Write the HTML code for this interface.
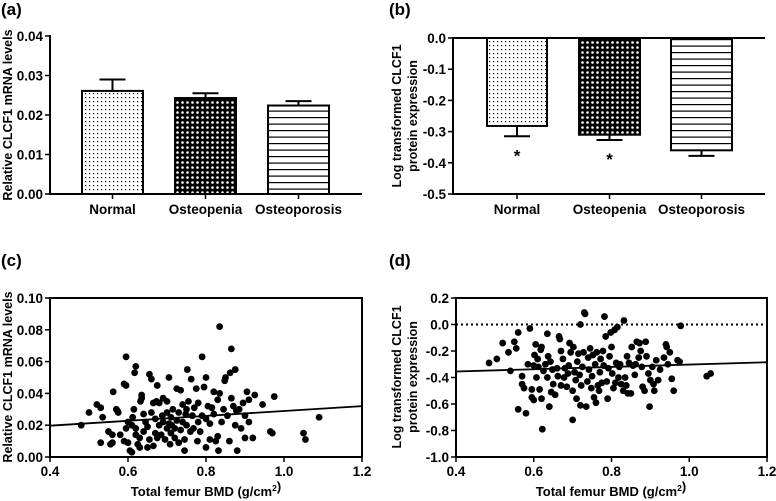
<!DOCTYPE html>
<html><head><meta charset="utf-8"><style>
body{margin:0;background:#fff;}
svg{display:block;font-family:"Liberation Sans",Arial,sans-serif;font-weight:bold;}
</style></head><body>
<svg id="fig" width="776" height="501" viewBox="0 0 776 501">
<defs>
<pattern id="pDots" width="4" height="4" patternUnits="userSpaceOnUse"><rect width="4" height="4" fill="#fff"/><rect x="1" y="1" width="1.2" height="1.2" fill="#000"/></pattern>
<pattern id="pCheck" width="5" height="5" patternUnits="userSpaceOnUse"><rect width="5" height="5" fill="#000"/><circle cx="2.5" cy="2.5" r="1.3" fill="#fff"/></pattern>
<pattern id="pLines" width="6" height="6.5" patternUnits="userSpaceOnUse"><rect width="6" height="6.5" fill="#fff"/><rect y="0" width="6" height="1.2" fill="#000"/></pattern>
</defs>
<text x="1" y="15" font-size="17">(a)</text>
<text x="389" y="15" font-size="17">(b)</text>
<text x="1" y="266" font-size="17">(c)</text>
<text x="389" y="266" font-size="17">(d)</text>
<text transform="translate(12,115) rotate(-90)" font-size="12.5" text-anchor="middle">Relative CLCF1 mRNA levels</text>
<text transform="translate(401,116) rotate(-90)" font-size="12.5" text-anchor="middle">Log transformed CLCF1</text>
<text transform="translate(417,116) rotate(-90)" font-size="12.5" text-anchor="middle">protein expression</text>
<text transform="translate(12,377) rotate(-90)" font-size="12.5" text-anchor="middle">Relative CLCF1 mRNA levels</text>
<text transform="translate(401,377) rotate(-90)" font-size="12.5" text-anchor="middle">Log transformed CLCF1</text>
<text transform="translate(417,377) rotate(-90)" font-size="12.5" text-anchor="middle">protein expression</text>
<text x="206" y="496" font-size="13" text-anchor="middle">Total femur BMD (g/cm<tspan font-size="8.5" dy="-5">2</tspan>)</text>
<text x="611" y="496" font-size="13" text-anchor="middle">Total femur BMD (g/cm<tspan font-size="8.5" dy="-5">2</tspan>)</text>
</svg>
<script>
const groups=["Normal","Osteopenia","Osteoporosis"];
const aMeans=[0.0261,0.0243,0.0224];
const aErr=[0.0029,0.0012,0.0011];
const aTicks=["0.00","0.01","0.02","0.03","0.04"];
const bMeans=[-0.282,-0.310,-0.360];
const bErr=[0.033,0.017,0.018];
const bTicks=["0.0","-0.1","-0.2","-0.3","-0.4","-0.5"];
const bStars=["*","*",""];
const fills=["url(#pDots)","url(#pCheck)","url(#pLines)"];
const cX=[0.48,0.50,0.52,0.53,0.53,0.535,0.55,0.555,0.56,0.56,0.562,0.57,0.573,0.575,0.58,0.59,0.595,0.595,0.59,0.595,0.60,0.60,0.605,0.61,0.61,0.612,0.615,0.617,0.62,0.62,0.62,0.625,0.63,0.63,0.632,0.635,0.635,0.64,0.64,0.645,0.65,0.65,0.655,0.655,0.66,0.66,0.665,0.665,0.67,0.67,0.673,0.675,0.675,0.68,0.68,0.685,0.688,0.69,0.69,0.695,0.70,0.70,0.70,0.705,0.705,0.708,0.71,0.71,0.712,0.715,0.72,0.72,0.725,0.725,0.73,0.73,0.735,0.735,0.74,0.74,0.745,0.745,0.748,0.75,0.75,0.752,0.755,0.76,0.762,0.765,0.768,0.77,0.775,0.778,0.78,0.78,0.785,0.79,0.79,0.795,0.80,0.80,0.80,0.805,0.81,0.81,0.815,0.82,0.82,0.825,0.83,0.83,0.832,0.835,0.835,0.84,0.845,0.848,0.85,0.855,0.86,0.862,0.865,0.865,0.87,0.875,0.875,0.878,0.88,0.885,0.89,0.895,0.90,0.90,0.905,0.91,0.91,0.92,0.925,0.945,0.965,0.97,0.975,1.05,1.055,1.09];
const cY=[0.020,0.028,0.033,0.031,0.009,0.025,0.016,0.008,0.009,0.014,0.041,0.030,0.029,0.028,0.014,0.046,0.045,0.063,0.010,0.018,0.022,0.009,0.004,0.003,0.020,0.025,0.030,0.053,0.057,0.014,0.018,0.008,0.012,0.006,0.035,0.039,0.037,0.027,0.016,0.022,0.006,0.019,0.052,0.011,0.049,0.028,0.007,0.034,0.015,0.024,0.035,0.045,0.012,0.020,0.034,0.014,0.026,0.037,0.022,0.011,0.018,0.028,0.035,0.050,0.021,0.008,0.025,0.015,0.020,0.030,0.018,0.012,0.043,0.023,0.028,0.009,0.042,0.017,0.033,0.022,0.004,0.011,0.027,0.020,0.030,0.055,0.035,0.016,0.049,0.026,0.018,0.031,0.043,0.010,0.034,0.022,0.016,0.063,0.026,0.044,0.050,0.006,0.024,0.032,0.011,0.021,0.031,0.041,0.027,0.010,0.013,0.036,0.004,0.040,0.082,0.022,0.030,0.048,0.050,0.026,0.010,0.053,0.037,0.068,0.032,0.055,0.020,0.029,0.004,0.030,0.018,0.034,0.012,0.026,0.041,0.036,0.022,0.012,0.039,0.033,0.016,0.015,0.038,0.015,0.011,0.025];
const cFit=[0.0197,0.032];
const cXTicks=["0.4","0.6","0.8","1.0","1.2"];
const cYTicks=["0.00","0.02","0.04","0.06","0.08","0.10"];
const dX=[0.485,0.505,0.52,0.535,0.54,0.55,0.555,0.56,0.56,0.57,0.57,0.575,0.58,0.585,0.59,0.595,0.595,0.60,0.60,0.602,0.605,0.607,0.61,0.612,0.615,0.618,0.62,0.62,0.622,0.625,0.63,0.635,0.635,0.637,0.64,0.643,0.645,0.648,0.65,0.655,0.66,0.662,0.665,0.667,0.67,0.67,0.675,0.678,0.68,0.685,0.688,0.69,0.692,0.695,0.70,0.70,0.702,0.705,0.708,0.71,0.712,0.715,0.718,0.72,0.72,0.722,0.725,0.728,0.73,0.732,0.735,0.738,0.74,0.742,0.745,0.748,0.75,0.752,0.755,0.758,0.76,0.762,0.765,0.768,0.77,0.772,0.775,0.778,0.78,0.782,0.785,0.788,0.79,0.792,0.795,0.798,0.80,0.802,0.805,0.808,0.81,0.812,0.815,0.818,0.82,0.822,0.825,0.83,0.832,0.835,0.838,0.84,0.842,0.845,0.85,0.852,0.855,0.86,0.862,0.865,0.87,0.872,0.875,0.878,0.88,0.885,0.888,0.89,0.895,0.898,0.90,0.905,0.908,0.91,0.915,0.92,0.925,0.935,0.94,0.942,0.945,0.95,0.955,0.96,0.97,0.975,0.978,1.045,1.055];
const dY=[-0.29,-0.26,-0.14,-0.21,-0.35,-0.13,-0.18,-0.06,-0.64,-0.39,-0.45,-0.48,-0.67,-0.30,-0.03,-0.49,-0.55,-0.31,-0.57,-0.23,-0.15,-0.40,-0.26,-0.32,-0.49,-0.19,-0.17,-0.56,-0.79,-0.35,-0.30,-0.07,-0.40,-0.24,-0.62,-0.28,-0.51,-0.34,-0.45,-0.53,-0.33,-0.39,-0.09,-0.11,-0.20,-0.46,-0.26,-0.40,-0.33,-0.47,-0.37,-0.31,-0.14,-0.21,-0.50,-0.72,-0.17,-0.36,-0.42,-0.56,-0.28,-0.22,-0.38,-0.61,0.00,-0.46,-0.32,-0.21,0.09,0.08,-0.62,-0.43,-0.25,-0.34,-0.18,-0.48,-0.39,-0.23,-0.55,-0.30,-0.59,-0.21,-0.46,-0.50,-0.36,-0.26,-0.44,-0.20,-0.31,0.06,-0.09,-0.43,-0.56,-0.33,-0.24,-0.06,-0.17,-0.37,-0.48,-0.04,-0.44,-0.29,-0.02,-0.40,-0.32,-0.30,-0.45,-0.50,0.03,-0.40,-0.46,-0.24,-0.52,-0.29,-0.52,-0.17,-0.31,-0.38,-0.30,-0.13,-0.25,-0.14,-0.20,-0.32,-0.47,-0.50,-0.13,-0.24,-0.37,-0.62,-0.42,-0.32,-0.45,-0.50,-0.27,-0.42,-0.34,-0.25,-0.15,-0.17,-0.30,-0.21,-0.41,-0.50,-0.27,-0.28,-0.01,-0.39,-0.37];
const dFit=[-0.355,-0.285];
const dXTicks=["0.4","0.6","0.8","1.0","1.2"];
const dYTicks=["0.2","0.0","-0.2","-0.4","-0.6","-0.8","-1.0"];

const svg=document.getElementById('fig');
const NS="http://www.w3.org/2000/svg";
function mk(tag,attrs){const e=document.createElementNS(NS,tag);for(const k in attrs)e.setAttribute(k,attrs[k]);svg.appendChild(e);return e;}
function lin(d0,d1,r0,r1){return v=>r0+(v-d0)/(d1-d0)*(r1-r0);}
const TF=13.5;

(function(){
  const y=lin(0,0.04,194,36);
  const L=50,R=362;
  const bx=[[82,143],[175,236],[268,329]];
  for(let i=0;i<groups.length;i++){
    const cx=(bx[i][0]+bx[i][1])/2;
    let e=mk('line',{x1:cx,x2:cx,y1:y(aMeans[i]),y2:y(aMeans[i]+aErr[i]),stroke:'#000','stroke-width':2});
    
    
    e=mk('line',{x1:cx-13,x2:cx+13,y1:y(aMeans[i]+aErr[i]),y2:y(aMeans[i]+aErr[i]),stroke:'#000','stroke-width':2});
    
    
    e=mk('rect',{x:bx[i][0],y:y(aMeans[i]),width:bx[i][1]-bx[i][0],height:y(0)-y(aMeans[i]),fill:fills[i],stroke:'#000','stroke-width':2});
    
    
    e=mk('line',{x1:cx,x2:cx,y1:194,y2:199,stroke:'#000','stroke-width':1.5});
    
    
    e=mk('text',{x:cx,y:214,'font-size':TF,'text-anchor':'middle'});e.textContent=groups[i];
    
    
  }
  aTicks.forEach((t,i)=>{const v=i*0.01;
    let e=mk('line',{x1:45,x2:L,y1:y(v),y2:y(v),stroke:'#000','stroke-width':1.5});
    
    
    e=mk('text',{x:43,y:y(v)+5,'font-size':TF,'text-anchor':'end'});e.textContent=t;
    
    });
  let e=mk('line',{x1:L,x2:L,y1:35,y2:195,stroke:'#000','stroke-width':2});
  
  
  e=mk('line',{x1:L-1,x2:R,y1:194,y2:194,stroke:'#000','stroke-width':2});
  
  
})();

(function(){
  const y=lin(0,-0.5,38,194);
  const L=453,R=765;
  const bx=[[487,547],[579,640],[671,732]];
  for(let i=0;i<groups.length;i++){
    const cx=(bx[i][0]+bx[i][1])/2;
    const lo=bMeans[i]-bErr[i];
    let e=mk('line',{x1:cx,x2:cx,y1:y(bMeans[i]),y2:y(lo),stroke:'#000','stroke-width':2});
    
    
    e=mk('line',{x1:cx-13,x2:cx+13,y1:y(lo),y2:y(lo),stroke:'#000','stroke-width':2});
    
    
    e=mk('rect',{x:bx[i][0],y:y(0),width:bx[i][1]-bx[i][0],height:y(bMeans[i])-y(0),fill:fills[i],stroke:'#000','stroke-width':2});
    
    
    if(bStars[i]){e=mk('text',{x:cx,y:y(lo)+25,'font-size':17,'text-anchor':'middle'});e.textContent=bStars[i];
      
      }
    e=mk('line',{x1:cx,x2:cx,y1:194,y2:199,stroke:'#000','stroke-width':1.5});
    
    
    e=mk('text',{x:cx,y:214,'font-size':TF,'text-anchor':'middle'});e.textContent=groups[i];
    
    
  }
  bTicks.forEach((t,i)=>{const v=-i*0.1;
    let e=mk('line',{x1:448,x2:L,y1:y(v),y2:y(v),stroke:'#000','stroke-width':1.5});
    
    
    e=mk('text',{x:446,y:y(v)+5,'font-size':TF,'text-anchor':'end'});e.textContent=t;
    
    });
  let e=mk('line',{x1:L,x2:L,y1:37,y2:195,stroke:'#000','stroke-width':2});
  
  
  e=mk('line',{x1:L-1,x2:R,y1:38,y2:38,stroke:'#000','stroke-width':2});
  
  
  e=mk('line',{x1:L-1,x2:R,y1:194,y2:194,stroke:'#000','stroke-width':2});
  
  
})();

function scatter(p,X,Y,fit,xt,yt,L,R,T,B,y0,y1,zero){
  const x=lin(0.4,1.2,L,R),y=lin(y0,y1,B,T);
  let e=mk('rect',{x:L,y:T,width:R-L,height:B-T,fill:'none',stroke:'#000','stroke-width':2});
  
  
  if(zero){e=mk('line',{x1:L,x2:R,y1:y(0),y2:y(0),stroke:'#000','stroke-width':2,'stroke-dasharray':'2,3'});
    
    }
  xt.forEach((t,i)=>{const v=0.4+i*0.2;
    let e=mk('line',{x1:x(v),x2:x(v),y1:B,y2:B+5,stroke:'#000','stroke-width':1.5});
    
    
    e=mk('text',{x:x(v),y:B+19,'font-size':TF,'text-anchor':'middle'});e.textContent=t;
    
    });
  yt.forEach((t,i)=>{const v=parseFloat(t);
    let e=mk('line',{x1:L-5,x2:L,y1:y(v),y2:y(v),stroke:'#000','stroke-width':1.5});
    
    
    e=mk('text',{x:L-7,y:y(v)+5,'font-size':TF,'text-anchor':'end'});e.textContent=t;
    
    });
  for(let i=0;i<X.length;i++){
    e=mk('circle',{cx:x(X[i]),cy:y(Y[i]),r:3.4,fill:'#000'});
    
    
  }
  e=mk('line',{x1:x(0.4),x2:x(1.2),y1:y(fit[0]),y2:y(fit[1]),stroke:'#000','stroke-width':1.8});
  
  
}
scatter('c',cX,cY,cFit,cXTicks,cYTicks,50,362,298,457,0,0.1,false);
scatter('d',dX,dY,dFit,dXTicks,dYTicks,456,767,298,457,-1.0,0.2,true);
</script>
</body></html>
